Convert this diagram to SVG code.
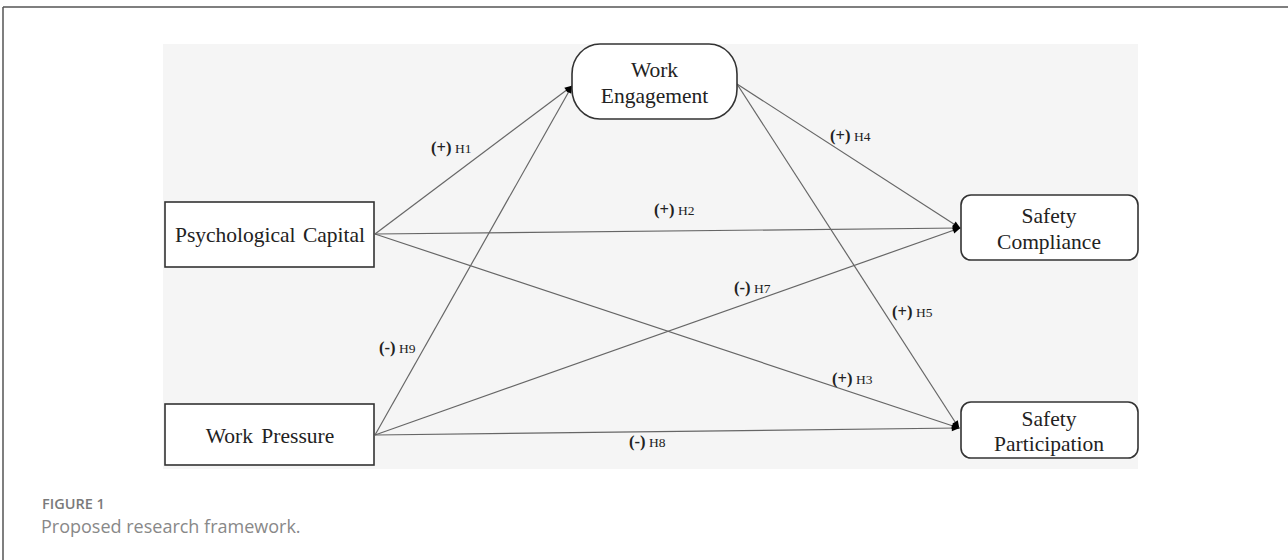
<svg xmlns="http://www.w3.org/2000/svg" width="1288" height="560" viewBox="0 0 1288 560">
<style>
.node{fill:#ffffff;stroke:#333333;stroke-width:1.6}
.nt{font-family:"Liberation Serif","Times New Roman",serif;font-size:21.5px;fill:#222222;text-anchor:middle}
.edge{stroke:#666666;stroke-width:1.2;fill:none;marker-end:url(#ah)}
.lb{font-family:"Liberation Serif","Times New Roman",serif;font-size:14px;fill:#222222}
.lb .s{font-weight:bold;font-size:16.5px}
.lb .h{font-size:13.5px}
.cap1{font-family:"Open Sans","Noto Sans",sans-serif;font-size:14.5px;font-weight:600;fill:#7a7a7a}
.cap2{font-family:"Open Sans","Noto Sans",sans-serif;font-size:18px;fill:#888888}
</style>
<defs>
<marker id="ah" viewBox="0 0 10 10" refX="9" refY="5" markerWidth="9" markerHeight="8" markerUnits="userSpaceOnUse" orient="auto">
<path d="M0,1 L10,5 L0,9 Z" fill="#000000"/>
</marker>
</defs>
<rect x="0" y="0" width="1288" height="560" fill="#ffffff"/>
<line x1="3" y1="7" x2="1288" y2="7" stroke="#555555" stroke-width="1.5"/>
<line x1="3" y1="7" x2="3" y2="560" stroke="#555555" stroke-width="1.5"/>
<rect x="163" y="44" width="975" height="425" fill="#f5f5f5"/>
<g id="connectors">
<line class="edge" x1="375" y1="234" x2="572" y2="86"/>
<line class="edge" x1="375" y1="435" x2="572" y2="86"/>
<line class="edge" x1="375" y1="234" x2="960" y2="228"/>
<line class="edge" x1="737" y1="84" x2="960" y2="228"/>
<line class="edge" x1="737" y1="84" x2="959" y2="428"/>
<line class="edge" x1="375" y1="234" x2="959" y2="428"/>
<line class="edge" x1="375" y1="435" x2="960" y2="228"/>
<line class="edge" x1="375" y1="435" x2="959" y2="428"/>
</g>
<g id="labels">
<text class="lb" x="431" y="153"><tspan class="s">(+)</tspan> <tspan class="h">H1</tspan></text>
<text class="lb" x="654" y="215"><tspan class="s">(+)</tspan> <tspan class="h">H2</tspan></text>
<text class="lb" x="830" y="141"><tspan class="s">(+)</tspan> <tspan class="h">H4</tspan></text>
<text class="lb" x="734" y="293"><tspan class="s">(-)</tspan> <tspan class="h">H7</tspan></text>
<text class="lb" x="892" y="317"><tspan class="s">(+)</tspan> <tspan class="h">H5</tspan></text>
<text class="lb" x="832" y="384"><tspan class="s">(+)</tspan> <tspan class="h">H3</tspan></text>
<text class="lb" x="629" y="447"><tspan class="s">(-)</tspan> <tspan class="h">H8</tspan></text>
<text class="lb" x="379" y="353"><tspan class="s">(-)</tspan> <tspan class="h">H9</tspan></text>
</g>
<g id="psychological-capital">
<rect class="node" x="165" y="202" width="209" height="65"/>
<text class="nt" x="270" y="242" word-spacing="2">Psychological Capital</text>
</g>
<g id="work-pressure">
<rect class="node" x="165" y="404" width="209" height="61"/>
<text class="nt" x="270" y="443" word-spacing="3">Work Pressure</text>
</g>
<g id="work-engagement">
<rect class="node" x="572" y="44" width="165" height="75" rx="28" ry="30"/>
<text class="nt" x="654.5" y="77">Work</text>
<text class="nt" x="654.5" y="103">Engagement</text>
</g>
<g id="safety-compliance">
<rect class="node" x="961" y="195" width="177" height="65" rx="10" ry="10"/>
<text class="nt" x="1049" y="223">Safety</text>
<text class="nt" x="1049" y="249">Compliance</text>
</g>
<g id="safety-participation">
<rect class="node" x="961" y="402" width="177" height="56" rx="10" ry="10"/>
<text class="nt" x="1049" y="426">Safety</text>
<text class="nt" x="1049" y="451">Participation</text>
</g>
<g id="caption">
<text class="cap1" x="42" y="509">FIGURE 1</text>
<text class="cap2" x="41" y="533">Proposed research framework.</text>
</g>
</svg>
